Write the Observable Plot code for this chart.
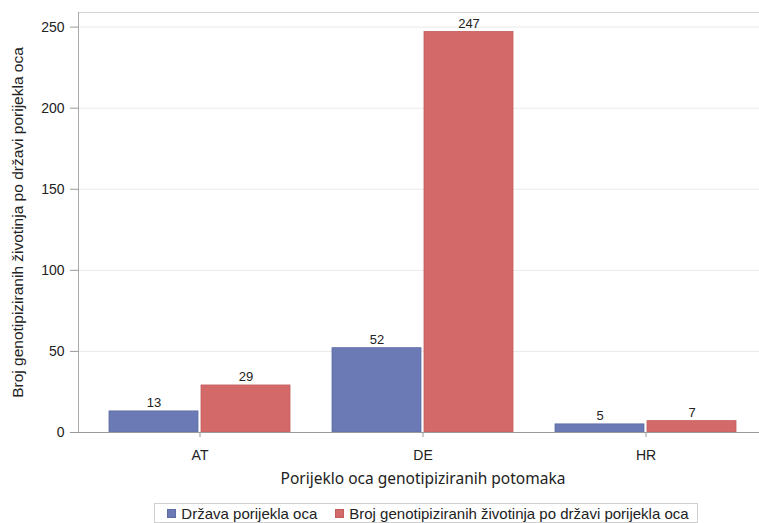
<!DOCTYPE html>
<html><head><meta charset="utf-8">
<script src="https://cdn.jsdelivr.net/npm/d3@7"></script>
<script src="https://cdn.jsdelivr.net/npm/@observablehq/plot@0.6"></script>
<style>
body{margin:0;background:#fff;font-family:"Liberation Sans",Arial,sans-serif;}
#chart svg [aria-label*="axis"] text{fill:#222;}
#xt{margin-left:78px;width:690px;text-align:center;font-family:"Noto Sans",sans-serif;font-size:15.5px;color:#222;height:20px;line-height:20px;padding-top:3px;}
#lgwrap{margin-left:78px;width:696px;text-align:center;margin-top:15px;}
#lg{display:inline-flex;align-items:center;border:1px solid #cfcfcf;padding:0 8px 0 12px;font-size:15px;color:#222;height:18px;}
#lg .sw{display:inline-block;width:9px;height:9px;margin-right:5px;}
#lg .it{display:inline-flex;align-items:center;margin-right:18px;}
#lg .it:last-child{margin-right:0;}
</style></head><body>
<div id="chart"></div>
<div id="xt">Porijeklo oca genotipiziranih potomaka</div>
<div id="lgwrap"><div id="lg"></div></div>
<script>
const categories = ["AT", "DE", "HR"];
const seriesNames = ["Država porijekla oca", "Broj genotipiziranih životinja po državi porijekla oca"];
const seriesA = [13, 52, 5];
const seriesB = [29, 247, 7];
const yTicks = [0, 50, 100, 150, 200, 250];
const yMax = 259;
const colors = ["#6b7ab4", "#d4696a"];
const strokes = ["#5d6ca3", "#c25d5e"];
const yLabel = "Broj genotipiziranih životinja po državi porijekla oca";

const rowsA = categories.map((c, i) => ({cat: c, value: seriesA[i]}));
const rowsB = categories.map((c, i) => ({cat: c, value: seriesB[i]}));

const xOpts = {type: "band", domain: categories, range: [78, 767.5], paddingInner: 0.1866, paddingOuter: 0.134};
const bw = Plot.scale({x: xOpts}).bandwidth;
const half = bw / 2 + 1;
const off = bw / 4 + 0.5;

const chart = Plot.plot({
  width: 759,
  height: 465,
  marginTop: 12,
  marginBottom: 33,
  marginLeft: 78,
  marginRight: 0,
  style: {fontSize: "14px", fontFamily: "Liberation Sans, Arial, sans-serif", color: "#999", background: "#fff"},
  x: {...xOpts, tickSize: 5, tickPadding: 13, label: null},
  y: {domain: [0, yMax], ticks: yTicks, tickSize: 8, tickPadding: 6, label: null},
  marks: [
    Plot.ruleY(yTicks.filter(t => t > 0), {stroke: "#e9e9e9"}),
    Plot.frame({anchor: "top", stroke: "#d2d2d2"}),
    Plot.barY(rowsA, {x: "cat", y: "value", fill: colors[0], stroke: strokes[0], strokeWidth: 0.8, insetRight: half}),
    Plot.barY(rowsB, {x: "cat", y: "value", fill: colors[1], stroke: strokes[1], strokeWidth: 0.8, insetLeft: half}),
    Plot.text(rowsA, {x: "cat", y: "value", text: d => String(d.value), dx: -off, dy: -4, lineAnchor: "bottom", fill: "#222", fontSize: 13}),
    Plot.text(rowsB, {x: "cat", y: "value", text: d => String(d.value), dx: off, dy: -4, lineAnchor: "bottom", fill: "#222", fontSize: 13}),
    Plot.text([yLabel], {text: d => d, frameAnchor: "left", textAnchor: "middle", lineAnchor: "middle", rotate: -90, dx: -60, fill: "#222", fontSize: 15.5}),
    Plot.frame({anchor: "left", stroke: "#a8a8a8"}),
    Plot.ruleY([0], {stroke: "#9a9a9a"})
  ]
});
document.getElementById("chart").appendChild(chart);

const lg = document.getElementById("lg");
seriesNames.forEach((n, i) => {
  const it = document.createElement("span");
  it.className = "it";
  const sw = document.createElement("span");
  sw.className = "sw";
  sw.style.background = colors[i];
  sw.style.border = "1px solid " + strokes[i];
  sw.style.boxSizing = "border-box";
  it.appendChild(sw);
  it.appendChild(document.createTextNode(n));
  lg.appendChild(it);
});
</script>
</body></html>
